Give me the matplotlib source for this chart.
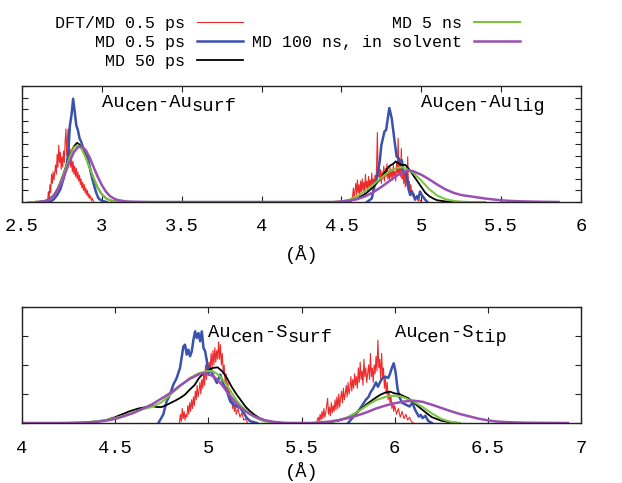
import numpy as np
import matplotlib
matplotlib.use("Agg")
import matplotlib.pyplot as plt

plt.rcParams['font.family'] = ['Liberation Mono', 'DejaVu Sans Mono']
plt.rcParams['mathtext.fontset'] = 'custom'
plt.rcParams['mathtext.rm'] = 'Liberation Mono'

# ---------------- series names / colours ----------------
series_labels = ["DFT/MD 0.5 ps", "MD 0.5 ps", "MD 50 ps", "MD 5 ns", "MD 100 ns, in solvent"]
series_colors = ["#ee2a2a", "#3a52ac", "#000000", "#7cc440", "#9a4fb2"]
series_widths = [0.8, 1.8, 1.3, 1.5, 1.8]

# ---------------- top panel: Au_cen - Au ----------------
# DFT/MD 0.5 ps (red), Au_surf peak
red_top1_x = [2.660, 2.665, 2.670, 2.675, 2.680, 2.685, 2.690, 2.695, 2.700, 2.705, 2.710, 2.715, 2.720, 2.725,
              2.730, 2.735, 2.740, 2.745, 2.750, 2.755, 2.760, 2.765, 2.770, 2.775, 2.780, 2.785, 2.790, 2.795,
              2.800, 2.805, 2.810, 2.815, 2.820, 2.825, 2.830, 2.835, 2.840, 2.845, 2.850, 2.855, 2.860, 2.865,
              2.870, 2.875, 2.880, 2.885, 2.890, 2.895, 2.900, 2.905, 2.910, 2.915, 2.920, 2.925, 2.930, 2.935,
              2.940, 2.950]
red_top1_y = [0.0, 0.9, 0.2, 1.5, 0.8, 2.4, 1.6, 2.6, 1.9, 2.5, 3.2, 2.4, 4.1, 3.0,
              4.9, 3.4, 4.3, 2.8, 3.9, 3.0, 4.4, 3.4, 5.2, 6.3, 4.0, 5.6, 6.3, 3.9,
              4.6, 3.0, 3.8, 2.6, 3.5, 2.4, 3.1, 2.2, 2.9, 2.0, 2.6, 1.8, 2.3, 1.5,
              2.0, 1.2, 1.7, 1.0, 1.5, 0.8, 1.2, 0.6, 1.0, 0.4, 0.7, 0.3, 0.5, 0.1,
              0.3, 0.0]
# DFT/MD 0.5 ps (red), Au_lig peak
red_top2_x = [4.560, 4.570, 4.575, 4.580, 4.590, 4.595, 4.600, 4.605, 4.610, 4.615, 4.620, 4.625, 4.630, 4.635,
              4.640, 4.645, 4.650, 4.655, 4.660, 4.665, 4.670, 4.675, 4.680, 4.685, 4.690, 4.695, 4.700, 4.705,
              4.710, 4.715, 4.720, 4.725, 4.730, 4.735, 4.740, 4.745, 4.750, 4.755, 4.760, 4.765, 4.770, 4.775,
              4.780, 4.785, 4.790, 4.795, 4.800, 4.805, 4.810, 4.815, 4.820, 4.825, 4.830, 4.835, 4.840, 4.845,
              4.850, 4.855, 4.860, 4.865, 4.870, 4.875, 4.880, 4.885, 4.890, 4.895, 4.900, 4.905, 4.910, 4.915,
              4.920, 4.925, 4.930, 4.935, 4.940, 4.945, 4.950, 4.955, 4.960, 4.970, 4.980, 4.990, 5.000]
red_top2_y = [0.0, 0.5, 1.2, 0.3, 1.6, 0.6, 1.9, 0.8, 1.5, 0.4, 1.8, 0.9, 2.0, 1.0,
              1.7, 0.7, 2.4, 1.2, 1.8, 0.9, 2.2, 1.3, 1.9, 1.1, 2.5, 1.4, 2.0, 1.2,
              2.3, 1.5, 3.0, 6.0, 2.2, 3.4, 1.8, 2.8, 1.6, 2.6, 2.0, 3.1, 1.8, 2.9,
              2.2, 3.3, 2.0, 2.7, 1.9, 3.0, 2.1, 2.8, 1.9, 3.2, 2.3, 2.6, 1.8, 3.4,
              2.5, 5.5, 2.4, 3.6, 2.2, 4.6, 2.0, 3.0, 1.6, 2.4, 1.3, 2.7, 1.4, 3.9,
              1.1, 1.8, 0.8, 1.5, 0.6, 1.0, 0.4, 0.7, 0.3, 0.4, 0.1, 0.2, 0.0]

# MD 0.5 ps (blue)
blue_top1_x = [2.66, 2.68, 2.70, 2.72, 2.74, 2.76, 2.78, 2.79, 2.80, 2.81, 2.82, 2.83, 2.84, 2.85, 2.86,
               2.87, 2.88, 2.89, 2.90, 2.91, 2.92, 2.93, 2.94, 2.95, 2.96, 2.97, 2.98, 3.00, 3.03]
blue_top1_y = [0.0, 0.05, 0.25, 0.6, 1.1, 2.0, 3.2, 4.3, 6.6, 7.5, 8.9, 7.8, 6.6, 6.2, 5.5,
               5.2, 4.8, 4.3, 4.1, 3.9, 3.3, 2.6, 2.0, 1.5, 1.0, 0.6, 0.3, 0.1, 0.0]
blue_top2_x = [4.66, 4.69, 4.70, 4.72, 4.74, 4.75, 4.77, 4.78, 4.79, 4.80, 4.815, 4.825, 4.836, 4.846,
               4.857, 4.867, 4.878, 4.888, 4.898, 4.909, 4.919, 4.930, 4.940, 4.951, 4.961, 4.972, 4.982,
               4.992, 5.003, 5.024, 5.038]
blue_top2_y = [0.0, 0.3, 1.0, 2.0, 3.5, 4.9, 6.1, 6.2, 7.2, 8.1, 7.2, 6.1, 4.9, 3.9,
               3.8, 3.5, 3.6, 2.6, 2.5, 2.3, 1.2, 0.6, 0.9, 0.6, 0.2, 0.5, 0.3,
               0.9, 0.6, 0.2, 0.0]

# MD 50 ps (black)
black_top_x = [2.60, 2.625, 2.65, 2.675, 2.70, 2.725, 2.75, 2.775, 2.80, 2.825, 2.845, 2.86, 2.875, 2.90,
               2.925, 2.95, 2.975, 3.00, 3.025, 3.05, 3.075, 3.10, 3.15,
               4.50, 4.55, 4.60, 4.65, 4.70, 4.75, 4.775, 4.80, 4.825, 4.84, 4.85, 4.875, 4.90, 4.925,
               4.95, 4.975, 5.00, 5.025, 5.05, 5.075, 5.10, 5.15, 5.20]
black_top_y = [0.0, 0.04, 0.12, 0.3, 0.62, 1.2, 2.05, 3.05, 4.05, 4.8, 5.1, 4.95, 4.6, 3.85,
               2.9, 2.0, 1.2, 0.66, 0.33, 0.15, 0.06, 0.02, 0.0,
               0.0, 0.1, 0.3, 0.7, 1.3, 2.1, 2.6, 3.1, 3.3, 3.5, 3.4, 3.2, 3.2, 2.8,
               2.3, 1.8, 1.3, 0.8, 0.5, 0.3, 0.15, 0.05, 0.0]

# MD 5 ns (green)
green_top_x = [2.54, 2.60, 2.625, 2.65, 2.675, 2.70, 2.725, 2.75, 2.775, 2.80, 2.825, 2.85, 2.875, 2.90,
               2.925, 2.95, 2.975, 3.00, 3.025, 3.05, 3.075, 3.10, 3.15,
               4.45, 4.50, 4.55, 4.60, 4.65, 4.70, 4.75, 4.80, 4.85, 4.875, 4.90, 4.95, 5.00, 5.05,
               5.10, 5.15, 5.20, 5.25, 5.30, 5.40]
green_top_y = [0.0, 0.01, 0.035, 0.1, 0.26, 0.57, 1.13, 1.95, 2.97, 3.98, 4.71, 4.9, 4.55, 3.82,
               2.9, 2.0, 1.23, 0.68, 0.34, 0.16, 0.06, 0.02, 0.0,
               0.0, 0.05, 0.2, 0.5, 0.95, 1.5, 2.1, 2.65, 2.95, 3.0, 2.9, 2.5, 1.85, 1.1,
               0.55, 0.25, 0.1, 0.03, 0.0, 0.0]

# MD 100 ns, in solvent (purple)
purple_top_x = [2.59, 2.625, 2.65, 2.675, 2.70, 2.725, 2.75, 2.775, 2.80, 2.825, 2.85, 2.875, 2.90, 2.925,
                2.95, 2.975, 3.00, 3.025, 3.05, 3.075, 3.10, 3.15, 3.20, 3.30,
                4.45, 4.50, 4.55, 4.60, 4.65, 4.70, 4.75, 4.80, 4.85, 4.90, 4.925, 4.95, 5.00, 5.05,
                5.10, 5.15, 5.20, 5.25, 5.30, 5.35, 5.40, 5.45, 5.50, 5.55, 5.60, 5.70, 5.80, 5.86]
purple_top_y = [0.0, 0.04, 0.1, 0.25, 0.55, 1.05, 1.75, 2.65, 3.55, 4.3, 4.72, 4.8, 4.45, 3.8,
                2.95, 2.15, 1.45, 0.9, 0.52, 0.3, 0.17, 0.05, 0.02, 0.0,
                0.0, 0.05, 0.12, 0.25, 0.5, 0.85, 1.3, 1.8, 2.3, 2.65, 2.72, 2.65, 2.35, 1.95,
                1.5, 1.1, 0.8, 0.6, 0.5, 0.4, 0.3, 0.22, 0.15, 0.1, 0.07, 0.03, 0.01, 0.0]

# ---------------- bottom panel: Au_cen - S ----------------
red_bot1_x = [4.845, 4.850, 4.855, 4.860, 4.865, 4.870, 4.875, 4.880, 4.885, 4.890, 4.895, 4.900, 4.905, 4.910,
              4.915, 4.920, 4.925, 4.930, 4.935, 4.940, 4.945, 4.950, 4.955, 4.960, 4.965, 4.970, 4.975, 4.980,
              4.985, 4.990, 4.995, 5.000, 5.005, 5.010, 5.015, 5.020, 5.025, 5.030, 5.035, 5.040, 5.045, 5.050,
              5.055, 5.060, 5.065, 5.070, 5.075, 5.080, 5.085, 5.090, 5.095, 5.100, 5.105, 5.110, 5.115, 5.120,
              5.125, 5.130, 5.135, 5.140, 5.145, 5.150, 5.160, 5.170, 5.180, 5.190, 5.200, 5.210]
red_bot1_y = [0.0, 0.3, 0.05, 0.5, 0.15, 0.4, 0.1, 0.3, 0.2, 0.6, 0.3, 0.7, 0.4, 0.8,
              0.5, 0.9, 0.6, 1.1, 0.8, 1.3, 0.9, 1.1, 1.4, 1.0, 1.5, 1.2, 1.7, 1.3,
              2.0, 1.5, 2.2, 1.7, 2.1, 1.8, 2.4, 1.9, 2.5, 2.0, 2.6, 2.1, 2.5, 2.2,
              2.8, 2.2, 2.7, 2.0, 2.4, 1.7, 2.0, 1.4, 1.7, 1.1, 1.4, 0.9, 1.1, 0.7,
              0.9, 0.5, 0.8, 0.4, 0.6, 0.3, 0.5, 0.2, 0.35, 0.1, 0.15, 0.0]
red_bot2_x = [5.580, 5.590, 5.595, 5.600, 5.605, 5.610, 5.615, 5.620, 5.625, 5.630, 5.635, 5.640, 5.645, 5.650,
              5.655, 5.660, 5.665, 5.670, 5.675, 5.680, 5.685, 5.690, 5.695, 5.700, 5.705, 5.710, 5.715, 5.720,
              5.725, 5.730, 5.735, 5.740, 5.745, 5.750, 5.755, 5.760, 5.765, 5.770, 5.775, 5.780, 5.785, 5.790,
              5.795, 5.800, 5.805, 5.810, 5.815, 5.820, 5.825, 5.830, 5.835, 5.840, 5.845, 5.850, 5.855, 5.860,
              5.865, 5.870, 5.875, 5.880, 5.885, 5.890, 5.895, 5.900, 5.905, 5.910, 5.915, 5.920, 5.925, 5.930,
              5.935, 5.940, 5.945, 5.950, 5.955, 5.960, 5.965, 5.970, 5.975, 5.980, 5.985, 5.990, 5.995, 6.000,
              6.010, 6.020, 6.030, 6.040, 6.050, 6.060, 6.070, 6.080, 6.090, 6.100]
red_bot2_y = [0.0, 0.2, 0.05, 0.3, 0.1, 0.4, 0.15, 0.5, 0.2, 0.35, 0.6, 0.85, 0.3, 0.55,
              0.25, 0.7, 0.35, 0.6, 0.4, 0.8, 0.45, 0.9, 0.5, 1.0, 0.55, 0.85, 1.1, 0.7,
              1.2, 0.8, 1.0, 1.3, 0.9, 1.4, 1.0, 1.2, 1.6, 1.1, 1.5, 1.2, 1.7, 1.3,
              1.6, 1.2, 1.9, 1.4, 2.1, 1.5, 1.8, 1.3, 2.2, 1.6, 1.9, 1.4, 1.7, 2.0,
              1.5, 2.4, 1.6, 1.9, 1.4, 2.0, 1.7, 2.3, 1.8, 2.86, 1.9, 2.2, 1.5, 2.4,
              1.6, 1.9, 1.2, 1.6, 1.0, 1.4, 0.8, 1.1, 0.7, 0.95, 0.5, 0.7, 0.4, 0.6,
              0.3, 0.5, 0.2, 0.4, 0.15, 0.3, 0.1, 0.2, 0.05, 0.0]

blue_bot1_x = [4.732, 4.758, 4.776, 4.794, 4.812, 4.830, 4.848, 4.866, 4.875, 4.884, 4.893, 4.902, 4.911,
               4.920, 4.929, 4.938, 4.947, 4.956, 4.965, 4.974, 4.983, 4.992, 5.001, 5.010, 5.028, 5.046,
               5.064, 5.082, 5.100, 5.118, 5.136, 5.154, 5.172, 5.190, 5.207, 5.225, 5.261]
blue_bot1_y = [0.0, 0.29, 0.74, 0.98, 1.32, 1.55, 1.9, 2.64, 2.7, 2.36, 2.53, 2.3, 2.47,
               2.87, 3.16, 2.93, 3.1, 2.82, 3.16, 2.59, 2.47, 2.13, 1.67, 1.9, 1.61, 1.38,
               1.67, 1.32, 1.09, 0.74, 0.63, 0.57, 0.52, 0.34, 0.17, 0.06, 0.0]
blue_bot2_x = [5.75, 5.77, 5.79, 5.81, 5.83, 5.845, 5.86, 5.87, 5.885, 5.90, 5.91, 5.925, 5.935, 5.95,
               5.965, 5.975, 5.985, 5.995, 6.005, 6.015, 6.025, 6.04, 6.06, 6.08, 6.095, 6.11, 6.13,
               6.14, 6.15, 6.165, 6.18, 6.20]
blue_bot2_y = [0.0, 0.15, 0.3, 0.45, 0.65, 0.8, 0.9, 1.05, 1.2, 1.4, 1.25, 1.45, 1.55, 1.6,
               1.55, 1.7, 1.9, 2.06, 1.75, 1.2, 0.9, 0.7, 0.63, 0.57, 0.7, 0.45, 0.22,
               0.28, 0.17, 0.25, 0.07, 0.0]

black_bot_x = [4.30, 4.35, 4.40, 4.45, 4.50, 4.525, 4.55, 4.575, 4.60, 4.625, 4.65, 4.675, 4.70, 4.725,
               4.75, 4.775, 4.80, 4.825, 4.85, 4.875, 4.90, 4.925, 4.95, 4.975, 5.00, 5.025, 5.05, 5.075,
               5.10, 5.125, 5.15, 5.175, 5.20, 5.225, 5.25, 5.275, 5.30, 5.35, 5.40,
               5.60, 5.65, 5.70, 5.75, 5.80, 5.85, 5.90, 5.925, 5.95, 5.975, 6.00, 6.025, 6.05, 6.075,
               6.10, 6.125, 6.15, 6.175, 6.20, 6.25, 6.30, 6.35]
black_bot_y = [0.0, 0.02, 0.05, 0.1, 0.2, 0.27, 0.33, 0.4, 0.45, 0.5, 0.53, 0.56, 0.58, 0.55,
               0.55, 0.62, 0.7, 0.78, 0.87, 0.98, 1.15, 1.3, 1.55, 1.72, 1.82, 1.9, 1.92, 1.78,
               1.55, 1.25, 1.0, 0.78, 0.56, 0.4, 0.27, 0.17, 0.1, 0.03, 0.0,
               0.0, 0.03, 0.08, 0.2, 0.38, 0.65, 0.88, 0.98, 1.05, 1.08, 1.02, 1.0, 0.92, 0.85,
               0.72, 0.58, 0.45, 0.32, 0.2, 0.08, 0.02, 0.0]

green_bot_x = [4.20, 4.30, 4.35, 4.40, 4.45, 4.50, 4.55, 4.60, 4.65, 4.70, 4.75, 4.80, 4.85, 4.90, 4.95,
               5.00, 5.025, 5.05, 5.075, 5.10, 5.125, 5.15, 5.175, 5.20, 5.225, 5.25, 5.275, 5.30, 5.35,
               5.40, 5.60, 5.65, 5.70, 5.75, 5.80, 5.85, 5.90, 5.95, 5.975, 6.00, 6.025, 6.05, 6.10,
               6.15, 6.20, 6.25, 6.30, 6.35]
green_bot_y = [0.0, 0.01, 0.03, 0.06, 0.1, 0.17, 0.26, 0.38, 0.48, 0.56, 0.72, 1.0, 1.28, 1.55, 1.72,
               1.8, 1.78, 1.68, 1.52, 1.3, 1.05, 0.8, 0.6, 0.45, 0.32, 0.2, 0.12, 0.06, 0.02,
               0.0, 0.0, 0.03, 0.1, 0.2, 0.38, 0.6, 0.79, 0.9, 0.93, 0.94, 0.93, 0.88, 0.74,
               0.55, 0.33, 0.14, 0.04, 0.0]

purple_bot_x = [4.00, 4.25, 4.35, 4.40, 4.45, 4.50, 4.55, 4.60, 4.65, 4.70, 4.75, 4.80, 4.85, 4.90, 4.95,
                4.975, 5.00, 5.025, 5.05, 5.075, 5.10, 5.125, 5.15, 5.175, 5.20, 5.225, 5.25, 5.275, 5.30,
                5.35, 5.40, 5.45, 5.55, 5.60, 5.65, 5.70, 5.75, 5.80, 5.85, 5.90, 5.95, 6.00, 6.05, 6.10,
                6.15, 6.20, 6.25, 6.30, 6.35, 6.40, 6.45, 6.50, 6.55, 6.60, 6.70, 6.80, 6.93]
purple_bot_y = [0.0, 0.0, 0.02, 0.04, 0.08, 0.14, 0.24, 0.35, 0.5, 0.65, 0.85, 1.05, 1.3, 1.52, 1.68,
                1.72, 1.68, 1.62, 1.48, 1.3, 1.08, 0.88, 0.68, 0.52, 0.4, 0.3, 0.22, 0.16, 0.1,
                0.04, 0.01, 0.0, 0.0, 0.02, 0.05, 0.1, 0.17, 0.26, 0.37, 0.5, 0.6, 0.68, 0.74, 0.77,
                0.73, 0.63, 0.52, 0.41, 0.31, 0.23, 0.15, 0.09, 0.05, 0.03, 0.01, 0.005, 0.0]

top_xticks = [2.5, 3, 3.5, 4, 4.5, 5, 5.5, 6]
top_xticklabels = ["2.5", "3", "3.5", "4", "4.5", "5", "5.5", "6"]
bot_xticks = [4, 4.5, 5, 5.5, 6, 6.5, 7]
bot_xticklabels = ["4", "4.5", "5", "5.5", "6", "6.5", "7"]

top_labels = [(3.0, [("Au", 0), ("cen", -1), ("-Au", 0), ("surf", -1)]),
              (5.0, [("Au", 0), ("cen", -1), ("-Au", 0), ("lig", -1)])]
bot_labels = [(5.0, [("Au", 0), ("cen", -1), ("-S", 0), ("surf", -1)]),
              (6.0, [("Au", 0), ("cen", -1), ("-S", 0), ("tip", -1)])]

W, H = 622, 483
fig = plt.figure(figsize=(W / 100, H / 100), dpi=100)
ax1 = fig.add_axes([22 / W, 1 - 202 / H, 559 / W, 116 / H])
ax2 = fig.add_axes([22 / W, 1 - 423 / H, 559 / W, 116 / H])

top_series = [
    [(red_top1_x, red_top1_y), (red_top2_x, red_top2_y)],
    [(blue_top1_x, blue_top1_y), (blue_top2_x, blue_top2_y)],
    [(black_top_x, black_top_y)],
    [(green_top_x, green_top_y)],
    [(purple_top_x, purple_top_y)],
]
bot_series = [
    [(red_bot1_x, red_bot1_y), (red_bot2_x, red_bot2_y)],
    [(blue_bot1_x, blue_bot1_y), (blue_bot2_x, blue_bot2_y)],
    [(black_bot_x, black_bot_y)],
    [(green_bot_x, green_bot_y)],
    [(purple_bot_x, purple_bot_y)],
]

handles = []
for i, segs in enumerate(top_series):
    for j, (xs, ys) in enumerate(segs):
        ln, = ax1.plot(xs, ys, color=series_colors[i], lw=series_widths[i],
                       label=series_labels[i] if j == 0 else None)
        if j == 0:
            handles.append(ln)
for i, segs in enumerate(bot_series):
    for xs, ys in segs:
        ax2.plot(xs, ys, color=series_colors[i], lw=series_widths[i])


def style(ax, xlim, ylim, yticks, xticks, xticklabels, pad):
    ax.set_xlim(*xlim)
    ax.set_ylim(*ylim)
    ax.set_xticks(xticks)
    ax.set_xticklabels(xticklabels)
    ax.set_yticks(yticks)
    ax.set_yticklabels([])
    ax.tick_params(axis='both', direction='in', length=4, width=0.8, top=True, right=True,
                   labelsize=13.5, pad=pad, color='#222222')
    for s in ax.spines.values():
        s.set_linewidth(1.0)
        s.set_color('#222222')


style(ax1, (2.5, 6), (0, 10), np.arange(0, 11, 1), top_xticks, top_xticklabels, 11.5)
style(ax2, (4, 7), (0, 4), np.arange(0, 5, 1), bot_xticks, bot_xticklabels, 12)
ax1.set_xlabel("(Å)", fontsize=13.5, labelpad=7)
ax2.set_xlabel("(Å)", fontsize=13.5, labelpad=3.5)


def chain_label(ax, x, yfrac, pieces, size=13.5, sub_dy=-3.3):
    tr = ax.get_xaxis_transform()
    first = ax.text(x, yfrac, pieces[0][0], transform=tr, fontsize=size, va='baseline', ha='left')
    prev, prev_level = first, pieces[0][1]
    for txt, level in pieces[1:]:
        dy = (level - prev_level) * (-sub_dy)
        prev = ax.annotate(txt, xy=(1, 0), xycoords=prev, xytext=(0, dy),
                           textcoords='offset points', va='bottom', ha='left', fontsize=size)
        prev_level = level


for x, pieces in top_labels:
    chain_label(ax1, x, 0.82, pieces)
for x, pieces in bot_labels:
    chain_label(ax2, x, 0.742, pieces)

fig.legend(handles=handles, labels=series_labels, ncol=2, markerfirst=False, frameon=False,
           loc='upper left', bbox_to_anchor=(55 / W, 1 - 16 / H), fontsize=12,
           handlelength=2.76, handletextpad=0.72, columnspacing=0.54, labelspacing=0.23,
           borderpad=0, borderaxespad=0)

fig.savefig("out.png", dpi=100)
